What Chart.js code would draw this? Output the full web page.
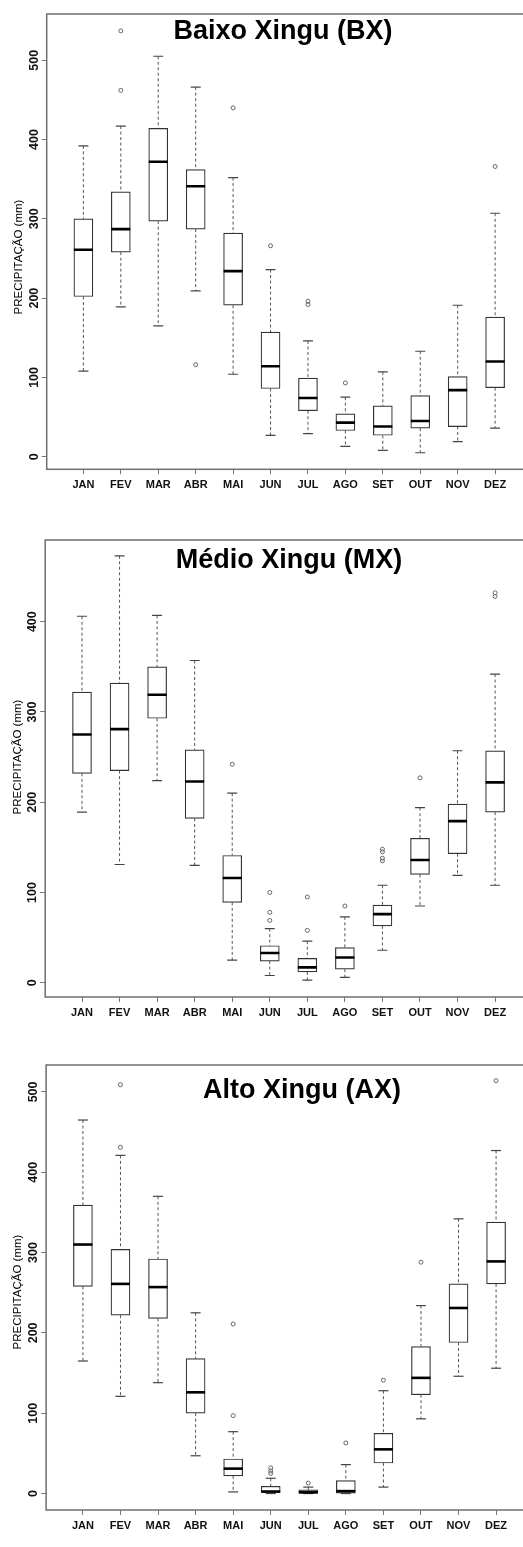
<!DOCTYPE html>
<html>
<head>
<meta charset="utf-8">
<script src="https://cdn.jsdelivr.net/npm/chart.js@4.4.1/dist/chart.umd.min.js"></script>
<style>
  html, body { margin: 0; padding: 0; background: #fff; }
  #page { position: relative; width: 523px; height: 1547px; overflow: hidden; background: #fff; }
  .panel { position: absolute; left: 0; }
  canvas { display: block; }
</style>
</head>
<body>
<div id="page">
  <div class="panel" style="top:0px"><canvas id="bx" width="545" height="515"></canvas></div>
  <div class="panel" style="top:515px"><canvas id="mx" width="545" height="515"></canvas></div>
  <div class="panel" style="top:1030px"><canvas id="ax" width="545" height="517"></canvas></div>
</div>
<script>
// Monthly precipitation (mm) distributions for three stretches of the Xingu basin.
const months = ['JAN', 'FEV', 'MAR', 'ABR', 'MAI', 'JUN', 'JUL', 'AGO', 'SET', 'OUT', 'NOV', 'DEZ'];
const yAxisTitle = 'PRECIPITAÇÃO (mm)';

// Baixo Xingu (BX)
const bxTicks = [0, 100, 200, 300, 400, 500];
const bxLow  = [108, 189, 165, 209, 104, 27, 29, 13, 8, 5, 19, 36];
const bxQ1   = [202, 258, 297, 287, 191, 86, 58, 33, 27, 36, 38, 87];
const bxMed  = [261, 287, 372, 341, 234, 114, 74, 43, 38, 45, 84, 120];
const bxQ3   = [300, 334, 414, 362, 282, 157, 99, 54, 64, 77, 101, 176];
const bxHigh = [392, 417, 505, 466, 352, 236, 146, 75, 107, 133, 191, 307];
const bxOut  = [[], [462, 537], [], [116], [440], [266], [192, 196], [93], [], [], [], [366]];

// Médio Xingu (MX)
const mxTicks = [0, 100, 200, 300, 400];
const mxLow  = [189, 131, 224, 130, 25, 8, 3, 6, 36, 85, 119, 108];
const mxQ1   = [232, 235, 293, 182, 89, 24, 12, 15, 63, 120, 143, 189];
const mxMed  = [275, 281, 319, 223, 116, 33, 17, 28, 76, 136, 179, 222];
const mxQ3   = [322, 332, 350, 258, 141, 41, 27, 39, 86, 160, 198, 257];
const mxHigh = [406, 473, 407, 357, 210, 60, 46, 73, 108, 194, 257, 342];
const mxOut  = [[], [], [], [], [242], [69, 78, 100], [58, 95], [85], [135, 138, 145, 148], [227], [], [428, 432]];

// Alto Xingu (AX)
const axTicks = [0, 100, 200, 300, 400, 500];
const axLow  = [165, 121, 138, 47, 2, 0, 0, 0, 8, 93, 146, 156];
const axQ1   = [258, 222, 218, 100, 22, 1.5, 0.5, 0.5, 38, 123, 188, 261];
const axMed  = [310, 261, 257, 126, 31, 2.5, 1.5, 3, 55, 144, 231, 289];
const axQ3   = [359, 304, 292, 168, 43, 9, 4.5, 16, 75, 183, 261, 338];
const axHigh = [465, 421, 370, 225, 77, 19, 8, 36, 128, 234, 342, 427];
const axOut  = [[], [431, 509], [], [], [97, 211], [25, 28, 32], [13], [63], [141], [288], [], [514]];

const FONT = '"Liberation Sans", Arial, Helvetica, sans-serif';

// Frame, main title and rotated y-axis title
const decorations = {
  id: 'decorations',
  afterDraw(chart, args, opts) {
    const { ctx, chartArea } = chart;
    ctx.save();
    ctx.strokeStyle = '#6f6f6f';
    ctx.lineWidth = 1.5;
    ctx.strokeRect(chartArea.left, chartArea.top, chartArea.right - chartArea.left, chartArea.bottom - chartArea.top);

    ctx.fillStyle = '#000';
    ctx.font = 'bold 27px ' + FONT;
    ctx.textAlign = 'center';
    ctx.textBaseline = 'alphabetic';
    ctx.fillText(opts.title, opts.titleX, opts.titleY);

    ctx.translate(opts.ylabX, opts.ylabY);
    ctx.rotate(-Math.PI / 2);
    ctx.font = '11.5px ' + FONT;
    ctx.fillStyle = '#000';
    ctx.textBaseline = 'middle';
    ctx.fillText(yAxisTitle, 0, 0);
    ctx.restore();
  }
};

function boxChart(id, s, cfg) {
  const xs = months.map((_, i) => i + 1);
  const boxes = xs.map((x, i) => ({ x, y: [s.q1[i], s.q3[i]] }));
  const medians = xs.map((x, i) => ({ x, y: s.med[i] }));
  const staples = xs.flatMap((x, i) => [{ x, y: s.low[i] }, { x, y: s.high[i] }]);
  const whiskers = xs.flatMap((x, i) => [
    { x, y: s.high[i] }, { x, y: s.q3[i] }, { x, y: null },
    { x, y: s.q1[i] }, { x, y: s.low[i] }, { x, y: null }
  ]);
  const outliers = xs.flatMap((x, i) => s.out[i].map(v => ({ x, y: v })));

  return new Chart(document.getElementById(id), {
    type: 'bar',
    data: {
      datasets: [
        { type: 'line', data: whiskers, order: 4, borderColor: '#555', borderWidth: 1,
          borderDash: [3, 2.5], pointRadius: 0, fill: false, spanGaps: false, tension: 0 },
        { type: 'bar', data: boxes, order: 3, backgroundColor: '#fff', borderColor: '#333',
          borderWidth: 1.2, borderSkipped: false, barThickness: 19 },
        { type: 'scatter', data: staples, order: 2, pointStyle: 'line', radius: 5,
          borderColor: '#444', borderWidth: 1.2 },
        { type: 'scatter', data: outliers, order: 1, pointStyle: 'circle', radius: 2,
          backgroundColor: 'rgba(0,0,0,0)', borderColor: '#666', borderWidth: 1 },
        { type: 'scatter', data: medians, order: 0, pointStyle: 'line', radius: 9.5,
          borderColor: '#000', borderWidth: 2.6 }
      ]
    },
    options: {
      responsive: false,
      devicePixelRatio: 1,
      animation: false,
      events: [],
      layout: { padding: { top: cfg.padTop, right: cfg.padRight, left: 0, bottom: 0 } },
      plugins: {
        legend: { display: false },
        tooltip: { enabled: false },
        decorations: cfg.deco
      },
      scales: {
        x: {
          type: 'linear', min: 0.02, max: 12.98, offset: false,
          afterBuildTicks: sc => { sc.ticks = xs.map(v => ({ value: v })); },
          afterFit: sc => { sc.height = cfg.xAxisH; },
          ticks: { callback: v => months[v - 1], autoSkip: false, maxRotation: 0, minRotation: 0,
                   padding: 4, color: '#111', font: { family: FONT, size: 11, weight: 'bold' } },
          grid: { display: true, offset: false, drawOnChartArea: false, drawTicks: true, tickLength: 5,
                  color: '#777', tickColor: '#777', tickWidth: 1 },
          border: { display: false }
        },
        y: {
          type: 'linear', min: cfg.yMin, max: cfg.yMax,
          afterBuildTicks: sc => { sc.ticks = s.ticks.map(v => ({ value: v })); },
          afterFit: sc => { sc.width = cfg.left; },
          ticks: { callback: v => String(v), minRotation: 90, maxRotation: 90, crossAlign: 'center',
                   padding: -3, color: '#111', font: { family: FONT, size: 12.5, weight: 'bold' } },
          grid: { display: true, drawOnChartArea: false, drawTicks: true, tickLength: 5,
                  color: '#777', tickColor: '#777', tickWidth: 1 },
          border: { display: false }
        }
      }
    },
    plugins: [decorations]
  });
}

boxChart('bx',
  { ticks: bxTicks, low: bxLow, q1: bxQ1, med: bxMed, q3: bxQ3, high: bxHigh, out: bxOut },
  { padTop: 14, padRight: 13.2, left: 46.7, xAxisH: 45.7, yMin: -15.9, yMax: 558.3,
    deco: { title: 'Baixo Xingu (BX)', titleX: 283, titleY: 39, ylabX: 18.5, ylabY: 257 } });

boxChart('mx',
  { ticks: mxTicks, low: mxLow, q1: mxQ1, med: mxMed, q3: mxQ3, high: mxHigh, out: mxOut },
  { padTop: 25, padRight: 13.1, left: 45.2, xAxisH: 33, yMin: -15.8, yMax: 490.5,
    deco: { title: 'Médio Xingu (MX)', titleX: 289, titleY: 53, ylabX: 18, ylabY: 242 } });

boxChart('ax',
  { ticks: axTicks, low: axLow, q1: axQ1, med: axMed, q3: axQ3, high: axHigh, out: axOut },
  { padTop: 35, padRight: 11.1, left: 46.1, xAxisH: 37, yMin: -20.5, yMax: 533.5,
    deco: { title: 'Alto Xingu (AX)', titleX: 302, titleY: 68, ylabX: 18, ylabY: 262 } });
</script>
</body>
</html>
